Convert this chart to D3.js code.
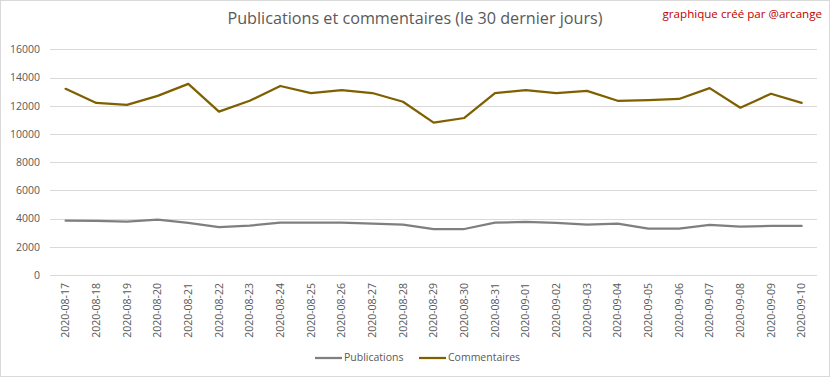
<!DOCTYPE html>
<html><head><meta charset="utf-8">
<script src="https://cdn.jsdelivr.net/npm/d3@7"></script>
<style>html,body{margin:0;padding:0;background:#fff;}svg{display:block;}</style>
</head><body>
<svg id="chart" width="832" height="378"></svg>
<script>
const dates = ["2020-08-17","2020-08-18","2020-08-19","2020-08-20","2020-08-21","2020-08-22","2020-08-23","2020-08-24","2020-08-25","2020-08-26","2020-08-27","2020-08-28","2020-08-29","2020-08-30","2020-08-31","2020-09-01","2020-09-02","2020-09-03","2020-09-04","2020-09-05","2020-09-06","2020-09-07","2020-09-08","2020-09-09","2020-09-10"];
const publications = [3850,3840,3780,3920,3690,3400,3500,3710,3710,3710,3640,3570,3260,3260,3710,3760,3690,3570,3640,3280,3280,3550,3430,3480,3480];
const commentaires = [13200,12200,12060,12700,13550,11580,12350,13400,12900,13100,12900,12280,10800,11130,12900,13100,12900,13050,12350,12400,12480,13250,11860,12850,12200];
const yTicks = [0,2000,4000,6000,8000,10000,12000,14000,16000];
const seriesNames = ["Publications","Commentaires"];
const seriesColors = ["#7f7f7f","#7f6000"];
const titleText = "Publications et commentaires (le 30 dernier jours)";
const creditText = "graphique créé par @arcange";

const svg = d3.select("#chart");
const W = 832, H = 378;
const font = "'Open Sans', sans-serif";
svg.append("rect").attr("x",0.5).attr("y",0.5).attr("width",W-3).attr("height",H-2)
  .attr("fill","#fff").attr("stroke","#d9d9d9");

const x = d3.scaleBand().domain(dates).range([50.3, 817]);
const y = d3.scaleLinear().domain([0,16000]).range([275, 49.3]);

// grid
svg.append("g").selectAll("line").data(yTicks).join("line")
  .attr("x1",50).attr("x2",817)
  .attr("y1",d=>Math.round(y(d))+0.5).attr("y2",d=>Math.round(y(d))+0.5)
  .attr("stroke","#d9d9d9").attr("stroke-width",1);

// y axis labels
const yAxis = d3.axisLeft(y).tickValues(yTicks).tickSize(0).tickPadding(0).tickFormat(d3.format("d"));
const gy = svg.append("g").attr("transform","translate(40,0)").call(yAxis);
gy.select(".domain").remove();
gy.selectAll("text").attr("fill","#595959").attr("font-family",font).attr("font-size","10.5px");

// x axis labels
const xAxis = d3.axisBottom(x).tickSize(0).tickPadding(0);
const gx = svg.append("g").attr("transform","translate(0,279)").call(xAxis);
gx.select(".domain").remove();
gx.selectAll("text")
  .attr("fill","#595959").attr("font-family",font).attr("font-size","10.5px")
  .attr("transform","rotate(-90)")
  .attr("text-anchor","end").attr("dy","0.35em").attr("x",-4).attr("y",0);

// lines
const line = d3.line().x((d,i)=>x(dates[i])+x.bandwidth()/2).y(d=>y(d));
[publications, commentaires].forEach((s,k)=>{
  svg.append("path").datum(s).attr("d",line).attr("fill","none")
    .attr("stroke",seriesColors[k]).attr("stroke-width",2.25)
    .attr("stroke-linejoin","round").attr("stroke-linecap","round");
});

// title
svg.append("text").attr("x",415).attr("y",20).attr("text-anchor","middle")
  .attr("dominant-baseline","middle").attr("font-family",font).attr("font-size","16.2px")
  .attr("fill","#595959").text(titleText);
svg.append("text").attr("x",822).attr("y",15).attr("text-anchor","end")
  .attr("dominant-baseline","middle").attr("font-family",font).attr("font-size","11.6px")
  .attr("fill","#c00000").text(creditText);

// legend
const legX = [315, 419];
seriesNames.forEach((n,k)=>{
  const g = svg.append("g").attr("transform",`translate(${legX[k]},358)`);
  g.append("line").attr("x1",0).attr("x2",27).attr("y1",0).attr("y2",0)
    .attr("stroke",seriesColors[k]).attr("stroke-width",2.25);
  g.append("text").attr("x",29).attr("y",0).attr("dominant-baseline","middle")
    .attr("font-family",font).attr("font-size","10.5px").attr("fill","#595959").text(n);
});
</script>
</body></html>
